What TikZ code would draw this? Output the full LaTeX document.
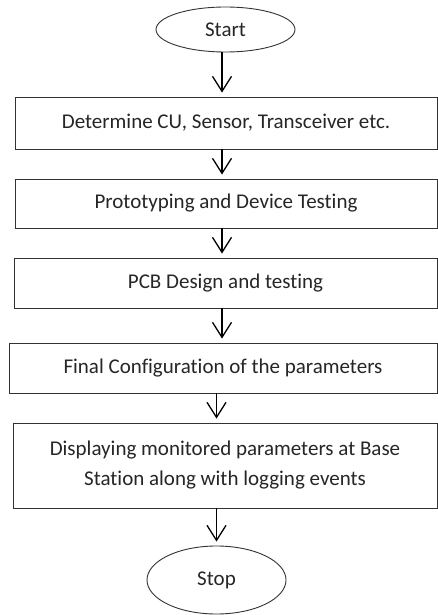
\documentclass[tikz,border=0pt]{standalone}
\usepackage{fontspec}
\setmainfont[Ligatures={NoCommon}]{Carlito}
\usetikzlibrary{arrows.meta,shapes.geometric}
\begin{document}
\begin{tikzpicture}[x=1bp,y=-1bp,
  every node/.style={font=\fontsize{21bp}{30bp}\selectfont, text=black!85},
  term/.style={ellipse, draw=black!80, line width=0.9bp, inner sep=0pt},
  stepbox/.style={rectangle, draw=black!80, line width=0.9bp, inner sep=0pt},
  arr/.style={draw=black, line width=1.2bp, shorten >=4bp,
    -{Straight Barb[length=15bp,width=19bp,line width=1.3bp]}}]
\useasboundingbox (0,0) rectangle (438,615);
\fill[white] (0,0) rectangle (438,615);
\node[term, minimum width=139bp, minimum height=45bp] (start) at (225.5,29.5) {Start};
\node[stepbox, minimum width=422bp, minimum height=52bp] (b1) at (226,123) {Determine CU, Sensor, Transceiver etc.};
\node[stepbox, minimum width=422bp, minimum height=49bp] (b2) at (226,203.5) {Prototyping and Device Testing};
\node[stepbox, minimum width=423bp, minimum height=50bp] (b3) at (225.5,283) {PCB Design and testing};
\node[stepbox, minimum width=428bp, minimum height=50bp] (b4) at (223,368) {Final Configuration of the parameters};
\node[stepbox, minimum width=424bp, minimum height=85bp, align=center] (b5) at (225,465.5) {Displaying monitored parameters at Base\\Station along with logging events};
\node[term, minimum width=139bp, minimum height=68bp] (stop) at (216.5,580) {Stop};
\coordinate (axis) at (222,0);
\draw[arr] (start.south -| axis) -- (b1.north -| axis);
\draw[arr] (b1.south -| axis) -- (b2.north -| axis);
\draw[arr] (b2.south -| axis) -- (b3.north -| axis);
\draw[arr] (b3.south -| axis) -- (b4.north -| axis);
\draw[arr] (b4.south -| stop) -- (b5.north -| stop);
\draw[arr] (b5.south -| stop) -- (stop.north);
\end{tikzpicture}
\end{document}
